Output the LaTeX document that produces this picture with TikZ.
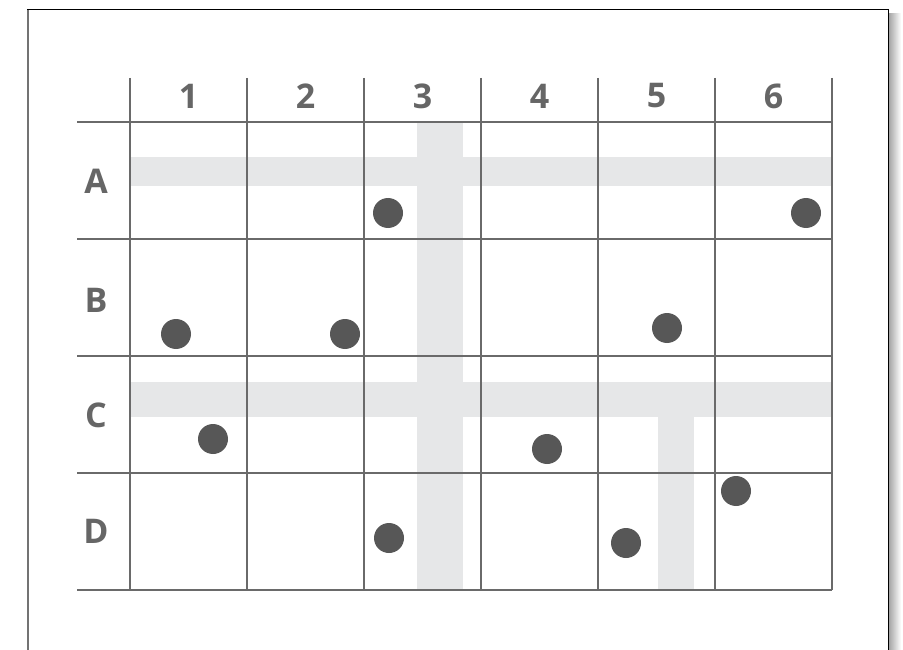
\documentclass[tikz,border=0pt]{standalone}
\usepackage{fontspec}
\setmainfont{Open Sans}
\definecolor{gridc}{HTML}{6A6A6A}
\definecolor{bandc}{HTML}{E6E7E8}
\definecolor{dotc}{HTML}{575757}
\definecolor{labc}{HTML}{666666}
\begin{document}
\begin{tikzpicture}[x=1pt,y=-1pt,
  lab/.style={text=labc,font=\fontsize{34}{40}\selectfont\bfseries,inner sep=0pt,anchor=center},
  dot/.style={circle,fill=dotc,minimum size=30pt,inner sep=0pt},
  gridline/.style={draw=gridc,line width=1.6pt},
  band/.style={fill=bandc}]
\useasboundingbox (0,0) rectangle (903,650);
% page shadow
\shade[left color=black!35,right color=white] (889,14) rectangle (901,650);
% page
\fill[white] (28,10) rectangle (888.5,650);
\draw[black!55,line width=1.6pt] (27.8,650) -- (27.8,9.5);
\draw[black,line width=1.4pt] (27,9.5) -- (888.5,9.5) -- (888.5,650);
% bands
\fill[band] (130,157) rectangle (832,186);
\fill[band] (130,382) rectangle (832,417);
\fill[band] (417,122) rectangle (463,590);
\fill[band] (658,417) rectangle (694,590);
% grid
\foreach \x in {130,247,364,481,598,715,832} \draw[gridline] (\x,78) -- (\x,590);
\foreach \y in {122,239,356,473,590} \draw[gridline] (77,\y) -- (832,\y);
% labels
\node[lab] (c1) at (188.5,96) {1};
\node[lab] (c2) at (305.5,96) {2};
\node[lab] (c3) at (422.5,96) {3};
\node[lab] (c4) at (539.5,96) {4};
\node[lab] (c5) at (656.5,96) {5};
\node[lab] (c6) at (773.5,96) {6};
\node[lab] (rA) at (96,181) {A};
\node[lab] (rB) at (96,300) {B};
\node[lab] (rC) at (96,415) {C};
\node[lab] (rD) at (96,531) {D};
% dots
\node[dot] (d1) at (388,213) {};
\node[dot] (d2) at (806,213) {};
\node[dot] (d3) at (176,334) {};
\node[dot] (d4) at (345,334) {};
\node[dot] (d5) at (667,328) {};
\node[dot] (d6) at (213,439) {};
\node[dot] (d7) at (547,449) {};
\node[dot] (d8) at (736,491) {};
\node[dot] (d9) at (389,538) {};
\node[dot] (d10) at (626,543) {};
\end{tikzpicture}
\end{document}
